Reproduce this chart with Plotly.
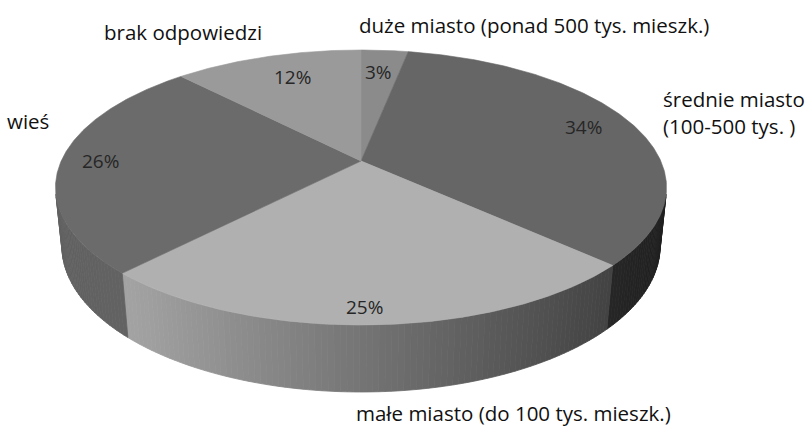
import numpy as np
import plotly.graph_objects as go

# ---- data ----
categories = ["duże miasto (ponad 500 tys. mieszk.)",
              "średnie miasto<br>(100-500 tys. )",
              "małe miasto (do 100 tys. mieszk.)",
              "wieś",
              "brak odpowiedzi"]
values = [3, 34, 25, 26, 12]
pct_labels = ["3%", "34%", "25%", "26%", "12%"]
top_colors = ["#8b8b8b", "#666666", "#b0b0b0", "#6b6b6b", "#9a9a9a"]

# ---- 3D projection of the pie (screen space = axis units) ----
CX, CY = 361.0, 161.0
S = 299.8
SIN_E, COS_E = 0.4416, 0.897
DIST = 4.655
H = 0.219


def proj(theta_deg, r=1.0, yup=0.0):
    th = np.radians(theta_deg)
    x = r * np.sin(th)
    z = r * np.cos(th)
    yp = yup * COS_E + z * SIN_E
    d = 1 + (z * COS_E - yup * SIN_E) / DIST
    return CX + S * x / d, CY - S * yp / d


def shade(hexcol, f):
    v = int(hexcol[1:3], 16)
    c = max(0, min(255, int(round(v * f))))
    return "#%02x%02x%02x" % (c, c, c)


total = float(sum(values))
bounds = np.concatenate([[0], np.cumsum(values)]) / total * 360.0

fig = go.Figure()

# visible side wall range (silhouette tangents)
phi = np.degrees(np.arccos(1.0 / (DIST * COS_E)))
W0, W1 = 180 - phi, 180 + phi

for i in range(len(values)):
    a, b = bounds[i], bounds[i + 1]
    lo, hi = max(a, W0), min(b, W1)
    if hi <= lo:
        continue
    n = max(2, int((hi - lo) / 1.0))
    ts = np.linspace(lo, hi, n + 1)
    for k in range(n):
        t0, t1 = ts[k], ts[k + 1]
        x0t, y0t = proj(t0)
        x1t, y1t = proj(t1)
        x1b, y1b = proj(t1, yup=-H)
        x0b, y0b = proj(t0, yup=-H)
        xm = (x0t + x1t) / 2
        f = 0.93 - 0.54 * (xm - 124) / 479
        f = max(0.32, min(0.92, f))
        col = shade(top_colors[i], f)
        fig.add_trace(go.Scatter(
            x=[x0t, x1t, x1b, x0b, x0t], y=[y0t, y1t, y1b, y0b, y0t],
            mode="lines", fill="toself", fillcolor=col,
            line=dict(color=col, width=0.8), hoverinfo="skip", showlegend=False))

# top face slices
for i in range(len(values)):
    a, b = bounds[i], bounds[i + 1]
    ts = np.linspace(a, b, max(3, int((b - a) / 0.5)) + 1)
    xs, ys = proj(ts)
    px = np.concatenate([[CX], xs, [CX]])
    py = np.concatenate([[CY], ys, [CY]])
    fig.add_trace(go.Scatter(
        x=px, y=py, mode="lines", fill="toself", fillcolor=top_colors[i],
        line=dict(color=top_colors[i], width=0.6), hoverinfo="skip",
        name=categories[i], showlegend=False))

FONT = "Open Sans"
lab_font = dict(family=FONT, size=20.5, color="#111111")
pct_font = dict(family=FONT, size=19, color="#262626")

annotations = []
# percentage labels
pct_pos = [(378, 72), (583, 127), (364, 307), (100, 161), (292, 77)]
for txt, (x, y) in zip(pct_labels, pct_pos):
    annotations.append(dict(x=x, y=y, text=txt, showarrow=False, xref="x", yref="y",
                            xanchor="center", yanchor="middle", font=pct_font))

# category labels
cat_ann = [
    dict(x=357, y=25, text=categories[0], xanchor="left", yanchor="middle", align="left"),
    dict(x=661, y=112, text=categories[1], xanchor="left", yanchor="middle", align="left"),
    dict(x=354, y=413, text=categories[2], xanchor="left", yanchor="middle", align="left"),
    dict(x=5, y=121, text=categories[3], xanchor="left", yanchor="middle", align="left"),
    dict(x=264, y=32, text=categories[4], xanchor="right", yanchor="middle", align="right"),
]
for an in cat_ann:
    an.update(showarrow=False, xref="x", yref="y", font=lab_font)
annotations += cat_ann

fig.update_layout(
    width=808, height=428,
    margin=dict(l=0, r=0, t=0, b=0),
    paper_bgcolor="white", plot_bgcolor="white",
    xaxis=dict(range=[0, 808], visible=False, fixedrange=True),
    yaxis=dict(range=[428, 0], visible=False, fixedrange=True),
    annotations=annotations,
    showlegend=False,
)

fig.write_html("out.html",
               config={"displayModeBar": False},
               post_script="document.body.style.margin='0';document.body.style.overflow='hidden';")
